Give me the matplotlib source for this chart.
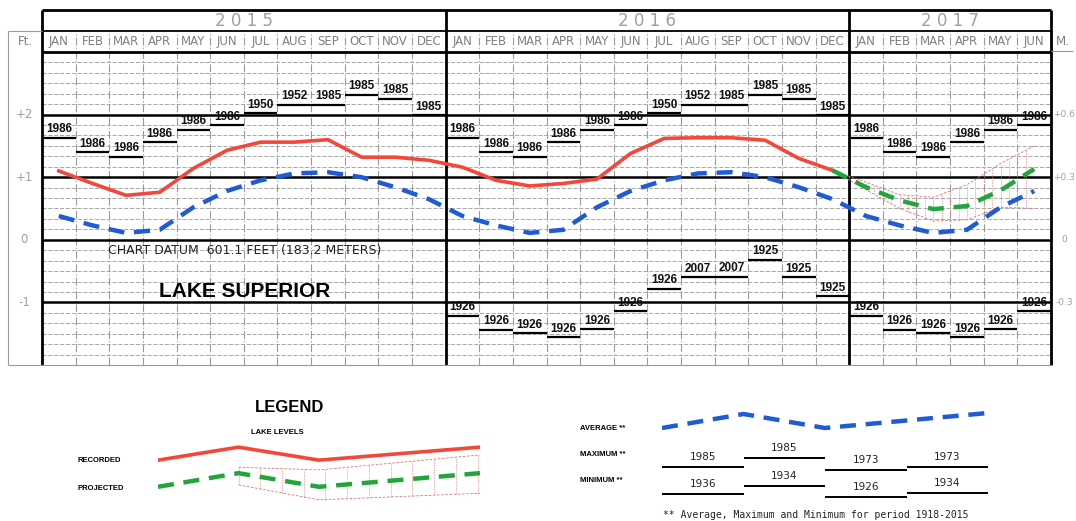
import matplotlib.pyplot as plt
import numpy as np

# ---- data (feet above chart datum) ----
months = ['JAN', 'FEB', 'MAR', 'APR', 'MAY', 'JUN', 'JUL', 'AUG', 'SEP', 'OCT', 'NOV', 'DEC']
years = ['2015', '2016', '2017']
year_months = [12, 12, 6]

average = [0.38, 0.23, 0.11, 0.16, 0.52, 0.78, 0.95, 1.06, 1.08, 1.00, 0.84, 0.65]
max_level = [1.63, 1.40, 1.33, 1.56, 1.76, 1.83, 2.02, 2.16, 2.16, 2.32, 2.25, 1.99]
max_year = ['1986', '1986', '1986', '1986', '1986', '1986',
            '1950', '1952', '1985', '1985', '1985', '1985']
min_level = [-1.21, -1.44, -1.49, -1.56, -1.43, -1.14, -0.78, -0.60, -0.59, -0.32, -0.60, -0.90]
min_year = ['1926', '1926', '1926', '1926', '1926', '1926',
            '1926', '2007', '2007', '1925', '1925', '1925']

recorded = [1.10, 0.90, 0.71, 0.76, 1.14, 1.43, 1.56, 1.56, 1.60, 1.32, 1.32, 1.27,
            1.16, 0.95, 0.86, 0.90, 0.97, 1.38, 1.62, 1.63, 1.63, 1.59, 1.30, 1.11]
# Dec 2016 .. Jun 2017
projected = [1.11, 0.84, 0.63, 0.49, 0.54, 0.79, 1.13]
proj_upper = [1.11, 0.92, 0.72, 0.68, 0.88, 1.22, 1.50]
proj_lower = [1.11, 0.80, 0.50, 0.30, 0.32, 0.52, 0.50]

# legend samples
leg_x = [0, 1, 2, 4]
leg_recorded = [3.45, 4.45, 3.45, 4.45]
leg_projected = [1.4, 2.45, 1.4, 2.45]
leg_upper = [1.4, 2.9, 2.7, 3.85]
leg_lower = [1.4, 1.55, 0.4, 0.9]
leg_average = [7.7, 9.1, 7.7, 9.2]
leg_max = [3.8, 4.7, 3.5, 3.8]
leg_max_year = ['1985', '1985', '1973', '1973']
leg_min = [1.1, 1.9, 0.8, 1.2]
leg_min_year = ['1936', '1934', '1926', '1934']

RED = '#f4473a'
BLUE = '#1f5bd6'
GREEN = '#22a63c'
GRID = '#9a9a9a'
HAND = 'Liberation Sans'

W, H = 1076, 521
fig = plt.figure(figsize=(W / 100, H / 100), dpi=100)


def box(x0, y0, x1, y1):
    return [x0 / W, 1 - y1 / H, (x1 - x0) / W, (y1 - y0) / H]


ax = fig.add_axes(box(42, 52, 1051, 365))
ax.set_xlim(0, 30)
ax.set_ylim(-2, 3)
ax.axis('off')

n = sum(year_months)
ft_px = 313 / 5.0
mo_px = 1009 / 30.0
y_mrow = 3 + 21 / ft_px
y_top = 3 + 42 / ft_px
x_left = -34 / mo_px

# grid
minor = [v for v in np.arange(-2, 3.001, 1 / 6) if abs(v - round(v)) > 0.01]
ax.hlines(minor, 0, n, colors=GRID, lw=0.6, linestyles=(0, (5, 2)))
bounds = np.cumsum(year_months)
vx = [i for i in range(1, n) if i not in bounds]
ax.vlines(vx, -2, y_mrow, colors=GRID, lw=0.8, linestyles=(0, (7, 2, 1, 2)), clip_on=False)
ax.hlines([-1, 0, 1, 2], 0, n, colors='k', lw=1.8)
ax.vlines([0] + list(bounds), -2, y_top, colors='k', lw=2, clip_on=False)
ax.hlines([3, y_top], 0, n, colors='k', lw=2, clip_on=False)
ax.hlines(y_mrow, 0, n, colors='k', lw=1.3, clip_on=False)
ax.hlines(-2, x_left, n, colors=GRID, lw=0.8, clip_on=False)
ax.vlines(x_left, -2, y_mrow, colors=GRID, lw=0.8, clip_on=False)
ax.hlines(y_mrow, x_left, 0, colors=GRID, lw=0.8, clip_on=False)
ax.hlines(3 + 1 / ft_px, n, n + 22 / mo_px, colors=GRID, lw=0.8, clip_on=False)

# header
start = 0
for yr, cnt in zip(years, year_months):
    ax.text(start + cnt / 2, (y_mrow + y_top) / 2, ' '.join(yr), ha='center', va='center',
            fontsize=12, color='#a0a0a0', clip_on=False)
    start += cnt
for i in range(n):
    ax.text(i + 0.5, (3 + y_mrow) / 2, months[i % 12], ha='center', va='center',
            fontsize=8.5, color='#808080', clip_on=False)
ax.text(-17 / mo_px, (3 + y_mrow) / 2, 'Ft.', ha='center', va='center', fontsize=8.5,
        color='#808080', clip_on=False)
ax.text(n + 12 / mo_px, (3 + y_mrow) / 2, 'M.', ha='center', va='center', fontsize=8.5,
        color='#808080', clip_on=False)
for v, lab in zip([2, 1, 0, -1], ['+2', '+1', '0', '-1']):
    ax.text(-18 / mo_px, v, lab, ha='center', va='center', fontsize=8.5, color='#a0a0a0',
            clip_on=False)
for v, lab in zip([2, 1, 0, -1], ['+0.6', '+0.3', '0', '-0.3']):
    ax.text(n + 13 / mo_px, v, lab, ha='center', va='center', fontsize=6.5,
            color='#a0a0a0', clip_on=False)

# max / min records
for i in range(n):
    m = i % 12
    ax.hlines(max_level[m], i, i + 1, colors='k', lw=1.6)
    ax.text(i + 0.5, max_level[m] + 0.04, max_year[m], ha='center', va='bottom',
            fontsize=8.5, family=HAND, fontweight='bold', color='#111111')
    if i >= 12:
        ax.hlines(min_level[m], i, i + 1, colors='k', lw=1.6)
        ax.text(i + 0.5, min_level[m] + 0.04, min_year[m], ha='center', va='bottom',
                fontsize=8.5, family=HAND, fontweight='bold', color='#111111')

# projected envelope
xp = np.arange(len(projected)) + len(recorded) - 0.5
ax.plot(xp, proj_upper, color='#e07070', lw=0.6, ls=(0, (3, 2)))
ax.plot(xp, proj_lower, color='#e07070', lw=0.6, ls=(0, (3, 2)))
xs = np.arange(xp[0] + 0.25, xp[-1], 0.25)
ax.vlines(xs, np.interp(xs, xp, proj_lower), np.interp(xs, xp, proj_upper),
          colors='#e08a8a', lw=0.5, linestyles=(0, (2, 1.5)))

# lines
xa = np.arange(n) + 0.5
ax.plot(xa, [average[i % 12] for i in range(n)], color=BLUE, lw=3.2, dashes=(3.6, 2.2))
ax.plot(np.arange(len(recorded)) + 0.5, recorded, color=RED, lw=2.6)
ax.plot(xp, projected, color=GREEN, lw=3.2, dashes=(3.6, 2.2))

ax.text((245 - 42) / mo_px, (240 - 251) / ft_px, 'CHART DATUM  601.1 FEET (183.2 METERS)',
        ha='center', va='center', fontsize=9, color='#222222')
ax.text((245 - 42) / mo_px, (240 - 292) / ft_px, 'LAKE SUPERIOR', ha='center', va='center',
        fontsize=15, family=HAND, fontweight='bold', color='k')

# ---- legend ----
fig.text(290 / W, 1 - 408 / H, 'LEGEND', ha='center', va='center', fontsize=12,
         family=HAND, fontweight='bold')
fig.text(277 / W, 1 - 432 / H, 'LAKE LEVELS', ha='center', va='center', fontsize=5.5,
         family=HAND, fontweight='bold')
fig.text(77 / W, 1 - 461 / H, 'RECORDED', ha='left', va='center', fontsize=5.5,
         family=HAND, fontweight='bold')
fig.text(77 / W, 1 - 488 / H, 'PROJECTED', ha='left', va='center', fontsize=5.5,
         family=HAND, fontweight='bold')

la = fig.add_axes(box(158, 440, 480, 505))
la.set_xlim(0, 4)
la.set_ylim(0, 5)
la.axis('off')
la.plot(leg_x[1:], leg_upper[1:], color='#e07070', lw=0.6, ls=(0, (3, 2)))
la.plot(leg_x[1:], leg_lower[1:], color='#e07070', lw=0.6, ls=(0, (3, 2)))
lxs = np.arange(1, 4.01, 0.27)
la.vlines(lxs, np.interp(lxs, leg_x, leg_lower), np.interp(lxs, leg_x, leg_upper),
          colors='#e08a8a', lw=0.5, linestyles=(0, (2, 1.5)))
la.plot(leg_x, leg_recorded, color=RED, lw=2.6)
la.plot(leg_x, leg_projected, color=GREEN, lw=3.2, dashes=(3.6, 2.2))

for lab, py in [('AVERAGE **', 428), ('MAXIMUM **', 455), ('MINIMUM **', 481)]:
    fig.text(580 / W, 1 - py / H, lab, ha='left', va='center', fontsize=5.5,
             family=HAND, fontweight='bold')

ra = fig.add_axes(box(662, 405, 988, 505))
ra.set_xlim(0, 4)
ra.set_ylim(0, 10)
ra.axis('off')
ra.plot(leg_x, leg_average, color=BLUE, lw=3.2, dashes=(3.6, 2.2))
for k in range(4):
    ra.hlines(leg_max[k], k, k + 1, colors='k', lw=1.4)
    ra.text(k + 0.5, leg_max[k] + 0.5, leg_max_year[k], ha='center', va='bottom',
            fontsize=7.5, color='#222222')
    ra.hlines(leg_min[k], k, k + 1, colors='k', lw=1.4)
    ra.text(k + 0.5, leg_min[k] + 0.5, leg_min_year[k], ha='center', va='bottom',
            fontsize=7.5, color='#222222')
fig.text(663 / W, 1 - 515 / H, '** Average, Maximum and Minimum for period 1918-2015',
         ha='left', va='center', fontsize=7, family='DejaVu Sans Mono', color='#222222')

fig.savefig('out.png', dpi=100)
